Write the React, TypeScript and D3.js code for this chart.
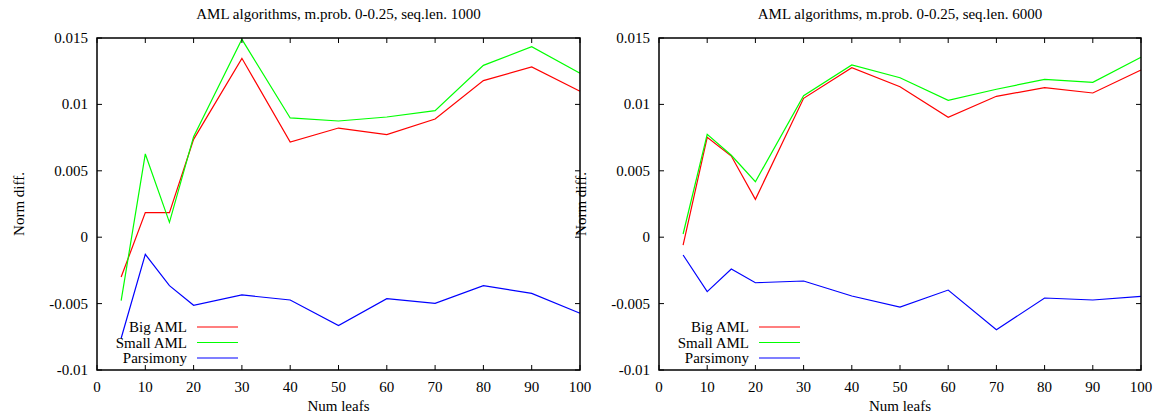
import * as d3 from 'd3'

const leafs = [5, 10, 15, 20, 30, 40, 50, 60, 70, 80, 90, 100]

// seq.len. 1000
const bigAml1000 = [-0.003, 0.00185, 0.00185, 0.00737, 0.01347, 0.00717, 0.00822, 0.00772, 0.0089, 0.01179, 0.01282, 0.01099]
const smallAml1000 = [-0.00478, 0.00627, 0.00112, 0.00757, 0.0149, 0.00898, 0.00875, 0.00905, 0.00953, 0.01294, 0.01435, 0.01234]
const parsimony1000 = [-0.00761, -0.00129, -0.00365, -0.00513, -0.00435, -0.00473, -0.00666, -0.00463, -0.00498, -0.00365, -0.00423, -0.00573]

// seq.len. 6000
const bigAml6000 = [-0.00059, 0.00752, 0.00611, 0.00285, 0.01046, 0.01276, 0.01133, 0.00903, 0.01061, 0.01126, 0.01086, 0.01259]
const smallAml6000 = [0.00024, 0.00775, 0.00617, 0.00418, 0.01066, 0.01297, 0.01201, 0.01031, 0.01114, 0.01189, 0.01166, 0.01355]
const parsimony6000 = [-0.00134, -0.0041, -0.0024, -0.00343, -0.0033, -0.00443, -0.00526, -0.00398, -0.00697, -0.00458, -0.00473, -0.00445]

const xTicks = [0, 10, 20, 30, 40, 50, 60, 70, 80, 90, 100]
const yTicks = [-0.01, -0.005, 0, 0.005, 0.01, 0.015]
const yTickLabels = ['-0.01', '-0.005', '0', '0.005', '0.01', '0.015']
const seriesNames = ['Big AML', 'Small AML', 'Parsimony']
const seriesColors = ['#ff0000', '#00ff00', '#0000ff']

const FONT = "'Liberation Serif', 'Times New Roman', Times, 'DejaVu Serif', 'Noto Serif', serif"

type PanelProps = {
  left: number
  right: number
  title: string
  series: number[][]
}

const top = 38
const bottom = 370
const tickLen = 5

const Panel = ({ left, right, title, series }: PanelProps) => {
  const x = d3.scaleLinear().domain([0, 100]).range([left, right])
  const y = d3.scaleLinear().domain([-0.01, 0.015]).range([bottom, top])
  const line = d3
    .line<number>()
    .x((_, i) => x(leafs[i]))
    .y((d) => y(d))
  const cx = (left + right) / 2
  const cy = (top + bottom) / 2

  return (
    <g style={{ fontFamily: FONT }} fill="#000">
      <text x={cx} y={19} textAnchor="middle" fontSize={15}>{title}</text>

      {series.map((s, i) => (
        <path key={i} d={line(s) ?? ''} fill="none" stroke={seriesColors[i]} strokeWidth={1.2} />
      ))}

      {xTicks.map((t) => (
        <g key={t}>
          <line x1={x(t)} x2={x(t)} y1={bottom} y2={bottom - tickLen} stroke="#000" />
          <line x1={x(t)} x2={x(t)} y1={top} y2={top + tickLen} stroke="#000" />
          <text x={x(t)} y={392} textAnchor="middle" fontSize={15}>{t}</text>
        </g>
      ))}
      {yTicks.map((t, i) => (
        <g key={t}>
          <line x1={left} x2={left + tickLen} y1={y(t)} y2={y(t)} stroke="#000" />
          <line x1={right} x2={right - tickLen} y1={y(t)} y2={y(t)} stroke="#000" />
          <text x={left - 9} y={y(t) + 5} textAnchor="end" fontSize={15}>{yTickLabels[i]}</text>
        </g>
      ))}

      <rect x={left} y={top} width={right - left} height={bottom - top} fill="none" stroke="#000" strokeWidth={1.5} />

      <text x={cx} y={411} textAnchor="middle" fontSize={15}>Num leafs</text>
      <text
        transform={`translate(${left - 73},${cy}) rotate(-90)`}
        textAnchor="middle"
        fontSize={15}
      >
        Norm diff.
      </text>

      {seriesNames.map((name, i) => {
        const ly = 327 + i * 15.5
        return (
          <g key={name}>
            <text x={left + 90} y={ly + 5} textAnchor="end" fontSize={15}>{name}</text>
            <line x1={left + 100} x2={left + 141} y1={ly} y2={ly} stroke={seriesColors[i]} strokeWidth={1.2} />
          </g>
        )
      })}
    </g>
  )
}

export default function App() {
  return (
    <svg
      width={1156}
      height={417}
      style={{ position: 'absolute', left: 0, top: 0, background: '#fff' }}
    >
      <rect width={1156} height={417} fill="#fff" />
      <Panel
        left={97}
        right={580}
        title="AML algorithms, m.prob. 0-0.25, seq.len. 1000"
        series={[bigAml1000, smallAml1000, parsimony1000]}
      />
      <Panel
        left={659}
        right={1141}
        title="AML algorithms, m.prob. 0-0.25, seq.len. 6000"
        series={[bigAml6000, smallAml6000, parsimony6000]}
      />
    </svg>
  )
}
